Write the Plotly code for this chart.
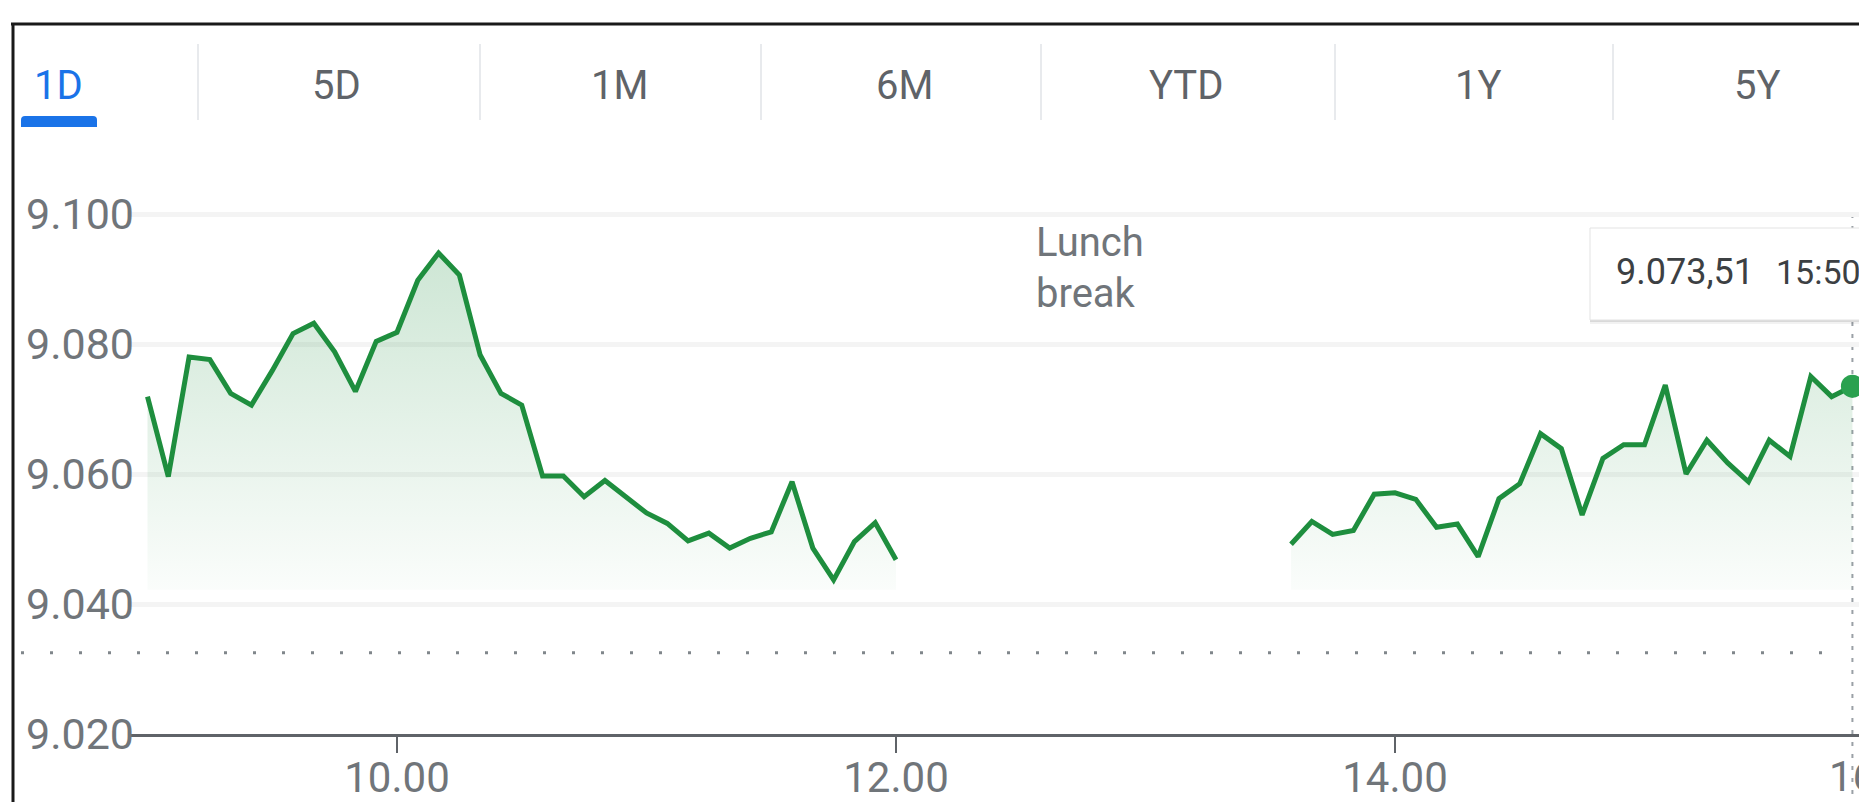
import plotly.graph_objects as go
from datetime import datetime, timedelta

# ---------------- data ----------------
DAY = "2024-01-02"
morning_times = ["09:00", "09:05", "09:10", "09:15", "09:20", "09:25", "09:30", "09:35",
                 "09:40", "09:45", "09:50", "09:55", "10:00", "10:05", "10:10", "10:15",
                 "10:20", "10:25", "10:30", "10:35", "10:40", "10:45", "10:50", "10:55",
                 "11:00", "11:05", "11:10", "11:15", "11:20", "11:25", "11:30", "11:35",
                 "11:40", "11:45", "11:50", "11:55", "12:00"]
morning_values = [9071.9, 9059.6, 9078.0, 9077.6, 9072.4, 9070.6, 9075.9, 9081.6,
                  9083.2, 9078.8, 9072.7, 9080.4, 9081.8, 9089.8, 9094.0, 9090.6,
                  9078.3, 9072.4, 9070.6, 9059.7, 9059.7, 9056.5, 9059.0, 9056.4,
                  9054.0, 9052.4, 9049.7, 9050.9, 9048.6, 9050.1, 9051.1, 9058.8,
                  9048.6, 9043.7, 9049.6, 9052.5, 9046.8]
afternoon_times = ["13:35", "13:40", "13:45", "13:50", "13:55", "14:00", "14:05", "14:10",
                   "14:15", "14:20", "14:25", "14:30", "14:35", "14:40", "14:45", "14:50",
                   "14:55", "15:00", "15:05", "15:10", "15:15", "15:20", "15:25", "15:30",
                   "15:35", "15:40", "15:45", "15:50"]
afternoon_values = [9049.2, 9052.7, 9050.7, 9051.3, 9056.9, 9057.1, 9056.1, 9051.8,
                    9052.3, 9047.3, 9056.2, 9058.5, 9066.2, 9063.9, 9053.7, 9062.4,
                    9064.5, 9064.5, 9073.7, 9060.0, 9065.2, 9061.7, 9058.8, 9065.2,
                    9062.7, 9075.0, 9071.9, 9073.51]
previous_close = 9032.5
fill_base = 9042.2
y_ticks = [9020, 9040, 9060, 9080, 9100]
x_tick_times = ["10:00", "12:00", "14:00", "16:00"]
tabs = ["1D", "5D", "1M", "6M", "YTD", "1Y", "5Y"]
lunch_lines = ["Lunch", "break"]

# ---------------- style / geometry ----------------
PAGE_W, PAGE_H = 1867, 802
BODY = 8                      # default page margin around the plot div
W, H = PAGE_W - BODY, PAGE_H - BODY
PLOT_LEFT, PLOT_TOP, PLOT_BOTTOM = 129, 180, 734   # page pixels
PX_PER_HOUR = 249.5
NINE_PX = 147.5
PX_PER_UNIT = 6.5
GREEN = "#1e8e3e"
DOT_GREEN = "#2aa14f"
GRAY_TXT = "#70757a"
TAB_TXT = "#5f6368"
BLUE = "#1a73e8"
FONT = "Roboto"

L = PLOT_LEFT - BODY
T = PLOT_TOP - BODY
B = H - (PLOT_BOTTOM - BODY)
R = 0


def ts(hm):
    return datetime.strptime(f"{DAY} {hm}", "%Y-%m-%d %H:%M")


plot_w = W - L - R
plot_h = H - T - B
x_start = ts("09:00") - timedelta(hours=(NINE_PX - PLOT_LEFT) / PX_PER_HOUR)
x_end = x_start + timedelta(hours=plot_w / PX_PER_HOUR)
y_start = y_ticks[0]
y_end = y_start + plot_h / PX_PER_UNIT


def px_x(px):
    return (px - PLOT_LEFT) / plot_w


def px_y(py):
    return (PLOT_BOTTOM - py) / plot_h


def t_paper(hm):
    return (ts(hm) - x_start).total_seconds() / (x_end - x_start).total_seconds()


def v_paper(v):
    return (v - y_start) / (y_end - y_start)


def fmt_num(v):
    s = f"{v:,.2f}"
    return s.replace(",", "#").replace(".", ",").replace("#", ".")


mt = [ts(t) for t in morning_times]
at = [ts(t) for t in afternoon_times]
grad = dict(type="vertical",
            colorscale=[[0, "rgba(30,142,62,0.02)"], [1, "rgba(30,142,62,0.22)"]],
            start=fill_base, stop=max(morning_values))

fig = go.Figure()
for times, vals in ((mt, morning_values), (at, afternoon_values)):
    fig.add_trace(go.Scatter(x=times, y=[fill_base] * len(times), mode="lines",
                             line=dict(width=0, color="rgba(0,0,0,0)"),
                             hoverinfo="skip", showlegend=False))
    fig.add_trace(go.Scatter(x=times, y=vals, mode="lines",
                             line=dict(color=GREEN, width=5),
                             fill="tonexty", fillgradient=grad,
                             showlegend=False))

fig.add_trace(go.Scatter(x=[at[-1]], y=[afternoon_values[-1]], mode="markers",
                         marker=dict(size=23, color=DOT_GREEN, line=dict(width=0)),
                         cliponaxis=False, showlegend=False))

shapes = []
# frame
shapes.append(dict(type="line", xref="paper", yref="paper", x0=px_x(11), x1=px_x(PAGE_W + 5),
                   y0=px_y(24), y1=px_y(24), line=dict(color="#1a1a1a", width=3), layer="above"))
shapes.append(dict(type="line", xref="paper", yref="paper", x0=px_x(13), x1=px_x(13),
                   y0=px_y(23), y1=px_y(PAGE_H + 5), line=dict(color="#1a1a1a", width=3),
                   layer="above"))
# tab separators
for sx in [198, 480, 761, 1041, 1335, 1613]:
    shapes.append(dict(type="line", xref="paper", yref="paper", x0=px_x(sx), x1=px_x(sx),
                       y0=px_y(44), y1=px_y(120), line=dict(color="#e8eaed", width=2)))
# tab underline (rounded top)
ux0, ux1, uy0, uy1, r = px_x(21), px_x(97), px_y(127), px_y(116), 4
rx, ry = r / plot_w, r / plot_h
path = (f"M {ux0},{uy0} L {ux0},{uy1 - ry} Q {ux0},{uy1} {ux0 + rx},{uy1} "
        f"L {ux1 - rx},{uy1} Q {ux1},{uy1} {ux1},{uy1 - ry} L {ux1},{uy0} Z")
shapes.append(dict(type="path", xref="paper", yref="paper", path=path,
                   fillcolor=BLUE, line=dict(width=0)))
# previous close dotted line
shapes.append(dict(type="line", xref="paper", yref="paper", x0=px_x(21), x1=px_x(1846),
                   y0=v_paper(previous_close), y1=v_paper(previous_close),
                   line=dict(color="#80868b", width=3, dash="3px,26px"), layer="below"))
# vertical hover line at last point
xl = t_paper(afternoon_times[-1])
shapes.append(dict(type="line", xref="paper", yref="paper", x0=xl, x1=xl,
                   y0=v_paper(y_ticks[-1]), y1=px_y(PAGE_H + 5),
                   line=dict(color="#9aa0a6", width=2, dash="4px,8px"), layer="below"))
# tooltip shadow + box
bx0, bx1, by0, by1 = 1590, 1890, 228, 320
for off, col in ((4, "rgba(0,0,0,0.05)"), (2, "rgba(0,0,0,0.10)")):
    shapes.append(dict(type="rect", xref="paper", yref="paper",
                       x0=px_x(bx0), x1=px_x(bx1), y0=px_y(by1 + off), y1=px_y(by0 + off),
                       fillcolor=col, line=dict(width=0), layer="above"))
shapes.append(dict(type="rect", xref="paper", yref="paper",
                   x0=px_x(bx0), x1=px_x(bx1), y0=px_y(by1), y1=px_y(by0),
                   fillcolor="white", line=dict(color="#e3e3e3", width=1), layer="above"))

annotations = []
tab_centers = [58, 336, 619, 904, 1186, 1478, 1757]
for i, (lab, cx) in enumerate(zip(tabs, tab_centers)):
    annotations.append(dict(text=lab, xref="paper", yref="paper", x=px_x(cx), y=px_y(85.5),
                            xanchor="center", yanchor="middle", showarrow=False,
                            font=dict(family=FONT, size=40, color=BLUE if i == 0 else TAB_TXT)))
for lab, cy in zip(lunch_lines, [242, 293]):
    annotations.append(dict(text=lab, xref="paper", yref="paper", x=px_x(1034), y=px_y(cy),
                            xanchor="left", yanchor="middle", showarrow=False,
                            font=dict(family=FONT, size=40, color=GRAY_TXT)))
annotations.append(dict(text=fmt_num(afternoon_values[-1]), xref="paper", yref="paper",
                        x=px_x(1614), y=px_y(272), xanchor="left", yanchor="middle",
                        showarrow=False, font=dict(family=FONT, size=36, color="#3c4043")))
annotations.append(dict(text=afternoon_times[-1], xref="paper", yref="paper",
                        x=px_x(1774), y=px_y(272), xanchor="left", yanchor="middle",
                        showarrow=False, font=dict(family=FONT, size=34, color="#3c4043")))
# tick label beyond the visible range
last_tick = x_tick_times[-1]
annotations.append(dict(text=last_tick.replace(":", "."), xref="paper", yref="paper",
                        x=t_paper(last_tick), y=px_y(776), xanchor="center", yanchor="middle",
                        xshift=-12, showarrow=False,
                        font=dict(family=FONT, size=42, color=GRAY_TXT)))

fig.update_layout(
    template="none",
    width=W, height=H, margin=dict(l=L, r=R, t=T, b=B, pad=0, autoexpand=False),
    paper_bgcolor="white", plot_bgcolor="rgba(0,0,0,0)",
    font=dict(family=FONT),
    separators=",.", showlegend=False, hovermode=False,
    shapes=shapes, annotations=annotations,
    xaxis=dict(type="date", range=[x_start, x_end], tickvals=[ts(t) for t in x_tick_times],
               tickformat="%H.%M", showline=True, linecolor="#5f6368", linewidth=3,
               ticks="outside", ticklen=16, tickwidth=2, tickcolor="#5f6368",
               showgrid=False, zeroline=False, automargin=False, ticklabelstandoff=-11,
               tickfont=dict(family=FONT, size=42, color=GRAY_TXT)),
    yaxis=dict(range=[y_start, y_end], tickvals=y_ticks, tickformat=",.0f",
               showgrid=True, gridcolor="#f4f4f4", gridwidth=5, zeroline=False,
               ticks="", showline=False, ticklabelstandoff=-6, automargin=False,
               tickfont=dict(family=FONT, size=43, color=GRAY_TXT)),
)

fig.write_html("out.html")
